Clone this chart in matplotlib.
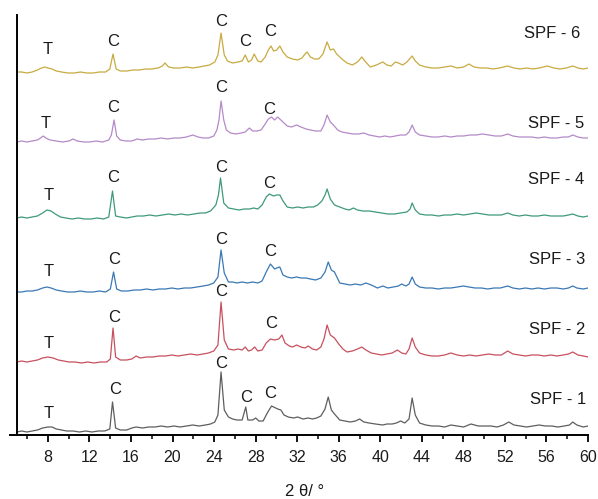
import matplotlib
matplotlib.use("Agg")
import matplotlib.pyplot as plt
from matplotlib.ticker import MultipleLocator

plt.rcParams['font.family'] = ['Liberation Sans', 'DejaVu Sans']

# ---------------- data (2θ in degrees, intensity a.u. with stacking offsets) ----------------
spf1_x = [5.0, 5.47, 5.98, 6.48, 6.99, 7.49, 8.0, 8.4, 8.81, 9.31, 9.82, 10.43, 11.03, 11.64, 12.24, 12.85, 13.46, 13.96, 14.22, 14.52,
          14.97, 15.58, 16.08, 16.49, 17.10, 17.70, 18.31, 18.91, 19.52, 20.13, 20.73, 21.34, 21.95, 22.55, 23.16, 23.66, 24.07, 24.37, 24.67, 24.98,
          25.38, 25.78, 26.19, 26.70, 27.05, 27.25, 27.71, 28.01, 28.31, 28.72, 29.12, 29.53, 29.93, 30.13, 30.43, 30.73, 31.14, 31.65, 32.05, 32.56,
          33.06, 33.47, 33.87, 34.28, 34.68, 34.99, 35.29, 35.59, 36.10, 36.60, 37.11, 37.61, 38.01, 38.42, 38.92, 39.53, 40.24, 40.64, 41.15, 41.55,
          41.96, 42.36, 42.77, 43.07, 43.37, 43.78, 44.38, 44.99, 45.59, 46.20, 46.81, 47.41, 48.02, 48.73, 49.43, 50.04, 50.65, 51.25, 51.86, 52.37,
          52.87, 53.48, 54.08, 54.69, 55.29, 55.90, 56.51, 57.11, 57.72, 58.22, 58.53, 58.93, 59.54, 60.0]
spf1_y = [3, 4, 3, 4, 5, 7, 8, 8, 6, 5, 4, 4, 3, 4, 3, 4, 4, 6, 33, 7,
          5, 5, 7, 8, 7, 8, 8, 9, 8, 9, 8, 9, 10, 9, 10, 11, 13, 20, 63, 25,
          18, 16, 15, 15, 28, 15, 15, 17, 14, 14, 22, 29, 27, 26, 25, 20, 18, 17, 18, 16,
          17, 16, 17, 19, 26, 38, 25, 21, 15, 14, 13, 14, 16, 13, 12, 11, 10, 11, 11, 12,
          14, 12, 16, 37, 20, 12, 10, 9, 9, 8, 10, 9, 8, 11, 9, 9, 9, 8, 10, 13,
          10, 9, 8, 9, 10, 9, 9, 8, 9, 10, 13, 10, 8, 9]

spf2_x = [5.0, 5.47, 5.98, 6.48, 6.99, 7.49, 8.0, 8.5, 9.01, 9.52, 10.02, 10.63, 11.23, 11.84, 12.45, 13.05, 13.66, 14.01, 14.27, 14.52,
          14.97, 15.58, 16.08, 16.49, 16.89, 17.50, 18.11, 18.71, 19.32, 19.93, 20.53, 21.14, 21.74, 22.35, 22.96, 23.46, 23.97, 24.37, 24.67, 24.98,
          25.38, 25.89, 26.29, 26.70, 27.00, 27.30, 27.61, 27.91, 28.21, 28.62, 29.02, 29.42, 29.83, 30.23, 30.53, 30.83, 31.24, 31.55, 31.95, 32.36,
          32.76, 33.06, 33.47, 33.87, 34.28, 34.58, 34.88, 35.19, 35.59, 36.00, 36.40, 36.80, 37.31, 37.81, 38.22, 38.62, 39.13, 39.63, 40.14, 40.64,
          41.15, 41.65, 42.06, 42.46, 42.77, 43.07, 43.37, 43.78, 44.38, 44.99, 45.59, 46.20, 46.81, 47.41, 48.02, 48.63, 49.23, 49.84, 50.45, 51.05,
          51.66, 52.27, 52.77, 53.38, 53.98, 54.59, 55.19, 55.80, 56.41, 57.01, 57.62, 58.12, 58.53, 59.03, 59.54, 60.0]
spf2_y = [73, 74, 73, 74, 75, 77, 78, 77, 75, 74, 73, 73, 72, 73, 72, 73, 73, 76, 107, 78,
          75, 75, 76, 79, 77, 78, 78, 79, 79, 80, 79, 80, 81, 80, 81, 82, 84, 90, 133, 95,
          86, 85, 86, 85, 88, 84, 85, 88, 84, 85, 92, 96, 95, 96, 100, 92, 89, 88, 90, 88,
          87, 89, 86, 85, 88, 96, 110, 100, 97, 91, 86, 83, 84, 86, 88, 85, 82, 81, 80, 81,
          82, 85, 82, 81, 86, 97, 88, 82, 80, 79, 79, 80, 82, 80, 79, 80, 79, 80, 81, 80,
          80, 84, 81, 80, 79, 80, 80, 79, 80, 79, 80, 81, 83, 80, 79, 78]

spf3_x = [5.0, 5.47, 5.98, 6.48, 6.99, 7.49, 7.90, 8.3, 8.81, 9.31, 9.92, 10.53, 11.13, 11.74, 12.35, 12.95, 13.56, 14.01, 14.32, 14.62,
          15.07, 15.68, 16.29, 16.89, 17.50, 18.11, 18.71, 19.32, 19.93, 20.53, 21.14, 21.74, 22.35, 22.96, 23.46, 23.97, 24.37, 24.67, 24.98, 25.38,
          25.78, 26.19, 26.70, 27.20, 27.71, 28.21, 28.62, 29.02, 29.42, 29.83, 30.03, 30.33, 30.63, 31.04, 31.45, 31.95, 32.36, 32.86, 33.27, 33.77,
          34.28, 34.68, 34.99, 35.29, 35.59, 36.10, 36.60, 37.11, 37.61, 38.12, 38.62, 39.13, 39.73, 40.24, 40.74, 41.25, 41.75, 42.06, 42.46, 42.77,
          43.07, 43.37, 43.78, 44.38, 44.99, 45.59, 46.20, 46.81, 47.41, 48.02, 48.53, 49.13, 49.74, 50.35, 50.95, 51.56, 52.27, 52.77, 53.38, 53.98,
          54.59, 55.19, 55.80, 56.41, 57.01, 57.62, 58.12, 58.53, 58.93, 59.54, 60.0]
spf3_y = [143, 143, 144, 144, 145, 147, 148, 147, 145, 144, 143, 143, 144, 143, 143, 144, 143, 146, 163, 146,
          144, 144, 145, 145, 146, 145, 146, 146, 147, 146, 147, 147, 148, 149, 150, 152, 158, 185, 162, 153,
          153, 152, 153, 152, 153, 152, 154, 163, 171, 166, 167, 168, 160, 158, 157, 158, 157, 157, 156, 155,
          157, 163, 173, 165, 163, 152, 151, 150, 151, 150, 152, 150, 147, 149, 147, 148, 149, 151, 149, 151,
          158, 151, 148, 147, 147, 146, 147, 147, 148, 149, 148, 147, 147, 146, 147, 147, 149, 147, 146, 147,
          146, 147, 146, 147, 147, 146, 147, 149, 147, 146, 147]

spf4_x = [5.0, 5.47, 5.98, 6.48, 6.99, 7.49, 7.90, 8.3, 8.71, 9.21, 9.72, 10.32, 10.93, 11.54, 12.14, 12.75, 13.36, 13.86, 14.22, 14.52,
          14.97, 15.58, 16.08, 16.59, 17.20, 17.80, 18.41, 19.02, 19.62, 20.23, 20.83, 21.44, 22.05, 22.65, 23.16, 23.66, 24.17, 24.42, 24.62, 24.93,
          25.38, 25.89, 26.39, 26.90, 27.40, 27.81, 28.21, 28.62, 29.02, 29.32, 29.73, 30.03, 30.33, 30.63, 31.04, 31.55, 32.05, 32.56, 33.06, 33.57,
          33.97, 34.38, 34.68, 34.88, 35.19, 35.59, 36.10, 36.60, 37.01, 37.41, 37.81, 38.32, 38.92, 39.53, 40.14, 40.74, 41.35, 41.96, 42.56, 42.87,
          43.07, 43.37, 43.78, 44.38, 44.99, 45.59, 46.20, 46.81, 47.41, 48.02, 48.63, 49.23, 49.84, 50.45, 51.05, 51.66, 52.27, 52.77, 53.38, 53.98,
          54.59, 55.19, 55.80, 56.41, 57.01, 57.62, 58.12, 58.53, 59.03, 59.54, 60.0]
spf4_y = [217, 218, 217, 218, 219, 222, 225, 224, 221, 218, 217, 216, 217, 216, 216, 217, 216, 218, 244, 219,
          218, 217, 218, 219, 219, 220, 219, 220, 221, 220, 221, 220, 221, 222, 222, 224, 230, 240, 257, 232,
          227, 226, 225, 226, 226, 227, 226, 230, 238, 241, 239, 240, 240, 234, 228, 227, 228, 227, 228, 228,
          230, 234, 240, 246, 236, 230, 228, 226, 225, 227, 225, 224, 224, 223, 222, 221, 221, 222, 223, 226,
          232, 225, 221, 220, 220, 219, 220, 220, 221, 220, 221, 222, 221, 220, 220, 220, 222, 220, 219, 220,
          219, 219, 220, 219, 219, 219, 220, 221, 219, 218, 219]

spf5_x = [5.0, 5.47, 5.98, 6.48, 6.99, 7.29, 7.55, 7.80, 8.2, 8.81, 9.41, 10.02, 10.43, 10.83, 11.44, 12.04, 12.65, 13.26, 13.86, 14.11,
          14.37, 14.62, 14.97, 15.48, 16.08, 16.59, 17.10, 17.70, 18.31, 18.91, 19.52, 20.13, 20.73, 21.34, 21.95, 22.45, 22.96, 23.46, 23.97, 24.27,
          24.47, 24.67, 24.93, 25.18, 25.58, 26.09, 26.60, 27.00, 27.40, 27.71, 28.11, 28.52, 28.92, 29.22, 29.53, 29.83, 30.13, 30.33, 30.63, 31.04,
          31.45, 31.95, 32.36, 32.86, 33.27, 33.77, 34.28, 34.58, 34.88, 35.19, 35.49, 35.90, 36.30, 36.80, 37.41, 37.91, 38.42, 38.92, 39.43, 39.94,
          40.44, 40.95, 41.45, 41.96, 42.46, 42.77, 43.07, 43.37, 43.78, 44.38, 44.99, 45.59, 46.20, 46.81, 47.41, 48.02, 48.63, 49.23, 49.84, 50.45,
          51.05, 51.66, 52.27, 52.77, 53.38, 53.98, 54.59, 55.19, 55.80, 56.41, 57.01, 57.62, 58.12, 58.53, 59.03, 59.54, 60.0]
spf5_y = [293, 294, 293, 294, 295, 297, 299, 297, 295, 294, 293, 294, 296, 294, 293, 293, 294, 293, 295, 300,
          315, 299, 295, 294, 294, 296, 295, 296, 296, 297, 296, 297, 297, 298, 300, 298, 297, 297, 299, 305,
          315, 334, 315, 305, 302, 301, 302, 303, 307, 304, 304, 305, 311, 316, 318, 315, 318, 316, 313, 309,
          308, 310, 308, 306, 305, 304, 304, 310, 320, 313, 310, 305, 303, 302, 301, 301, 302, 300, 299, 298,
          299, 298, 299, 300, 300, 303, 310, 303, 300, 299, 298, 298, 299, 298, 299, 299, 300, 300, 301, 300,
          299, 299, 301, 299, 298, 298, 298, 297, 298, 297, 297, 298, 298, 300, 298, 297, 297]

spf6_x = [5.0, 5.47, 5.98, 6.48, 6.99, 7.39, 7.70, 8.0, 8.4, 8.81, 9.31, 9.92, 10.53, 11.13, 11.74, 12.35, 12.95, 13.56, 13.96, 14.27,
          14.57, 14.97, 15.58, 16.19, 16.79, 17.40, 18.00, 18.61, 19.02, 19.27, 19.62, 20.13, 20.73, 21.34, 21.95, 22.55, 23.06, 23.56, 24.07, 24.37,
          24.67, 24.98, 25.28, 25.78, 26.29, 26.70, 27.00, 27.30, 27.61, 27.86, 28.21, 28.52, 28.92, 29.22, 29.48, 29.73, 30.03, 30.33, 30.63, 31.04,
          31.55, 32.05, 32.46, 32.76, 32.96, 33.27, 33.67, 34.07, 34.48, 34.88, 35.19, 35.49, 35.80, 36.30, 36.80, 37.31, 37.81, 38.22, 38.52, 39.03,
          39.63, 40.24, 40.64, 41.05, 41.45, 41.75, 42.16, 42.56, 43.07, 43.37, 43.78, 44.38, 44.99, 45.59, 46.20, 46.81, 47.41, 48.02, 48.53, 49.03,
          49.64, 50.24, 50.85, 51.46, 52.27, 52.87, 53.48, 54.08, 54.69, 55.29, 56.10, 56.71, 57.32, 57.92, 58.53, 59.03, 59.54, 60.0]
spf6_y = [363, 363, 362, 363, 365, 367, 368, 367, 366, 364, 363, 362, 362, 363, 362, 362, 363, 363, 366, 381,
          366, 364, 364, 365, 365, 366, 366, 367, 369, 372, 368, 367, 367, 368, 367, 368, 369, 370, 373, 380,
          402, 380, 374, 372, 373, 374, 380, 373, 375, 381, 374, 373, 378, 385, 389, 384, 385, 389, 383, 378,
          376, 375, 377, 381, 383, 378, 376, 376, 381, 393, 385, 386, 381, 376, 372, 370, 373, 378, 374, 368,
          370, 373, 370, 369, 373, 372, 370, 373, 379, 374, 370, 368, 367, 367, 368, 369, 367, 368, 371, 368,
          367, 367, 366, 367, 369, 367, 366, 367, 366, 367, 369, 367, 366, 367, 369, 367, 366, 367]

series_names = ["SPF - 1", "SPF - 2", "SPF - 3", "SPF - 4", "SPF - 5", "SPF - 6"]
series_x = [spf1_x, spf2_x, spf3_x, spf4_x, spf5_x, spf6_x]
series_y = [spf1_y, spf2_y, spf3_y, spf4_y, spf5_y, spf6_y]
colors = ["#5e5e5e", "#c8505e", "#3a78b4", "#3f9a78", "#b48ac8", "#c8aa40"]
name_x = [57.1, 57.0, 57.0, 56.9, 56.9, 56.5]
name_y = [36, 106, 176, 256, 312, 401]

# phase marks per series
marks_x = [[8.1, 14.46, 24.68, 27.09, 29.41],
           [8.1, 14.36, 24.68, 29.5],
           [8.1, 14.36, 24.68, 29.41],
           [8.1, 14.27, 24.68, 29.31],
           [7.8, 14.27, 24.68, 29.31],
           [8.0, 14.27, 24.68, 27.0, 29.41]]
marks_y = [[22, 45, 72, 37, 42],
           [92, 117, 143, 111],
           [163, 175, 196, 184],
           [240, 257, 268, 252],
           [312, 327, 347, 326],
           [385, 394, 413, 394, 403]]
marks_t = [["T", "C", "C", "C", "C"],
           ["T", "C", "C", "C"],
           ["T", "C", "C", "C"],
           ["T", "C", "C", "C"],
           ["T", "C", "C", "C"],
           ["T", "C", "C", "C", "C"]]

xticks = [8, 12, 16, 20, 24, 28, 32, 36, 40, 44, 48, 52, 56, 60]

# ---------------- figure ----------------
fig = plt.figure(figsize=(5.98, 4.99), dpi=100)
ax = fig.add_axes([10 / 598, 64 / 499, 578 / 598, 420 / 499])
ax.set_xlim(4.35, 60)
ax.set_ylim(0, 420)

for xs, ys, c in zip(series_x, series_y, colors):
    ax.plot(xs, ys, color=c, lw=0.9)

for xs, ys, ts in zip(marks_x, marks_y, marks_t):
    for x, y, t in zip(xs, ys, ts):
        ax.text(x, y, t, ha="center", va="center", fontsize=12, color="#1a1a1a")

for nx, ny, nm in zip(name_x, name_y, series_names):
    ax.text(nx, ny, nm, ha="center", va="center", fontsize=12, color="#1a1a1a")

ax.spines["top"].set_visible(False)
ax.spines["right"].set_visible(False)
ax.spines["left"].set_position(("data", 5.0))
ax.spines["left"].set_linewidth(1.4)
ax.spines["bottom"].set_linewidth(1.4)
ax.set_yticks([])
ax.set_xticks(xticks)
ax.xaxis.set_minor_locator(MultipleLocator(2))
ax.tick_params(axis="x", which="major", direction="out", length=5, width=1.3,
               labelsize=11.5, pad=5.5, labelcolor="#1a1a1a")
ax.tick_params(axis="x", which="minor", direction="out", length=3, width=1.1)

fig.text(305 / 598, 1 - 492 / 499, "2 θ/ °", ha="center", va="center", fontsize=12, color="#1a1a1a")

fig.savefig("out.png", dpi=100)
